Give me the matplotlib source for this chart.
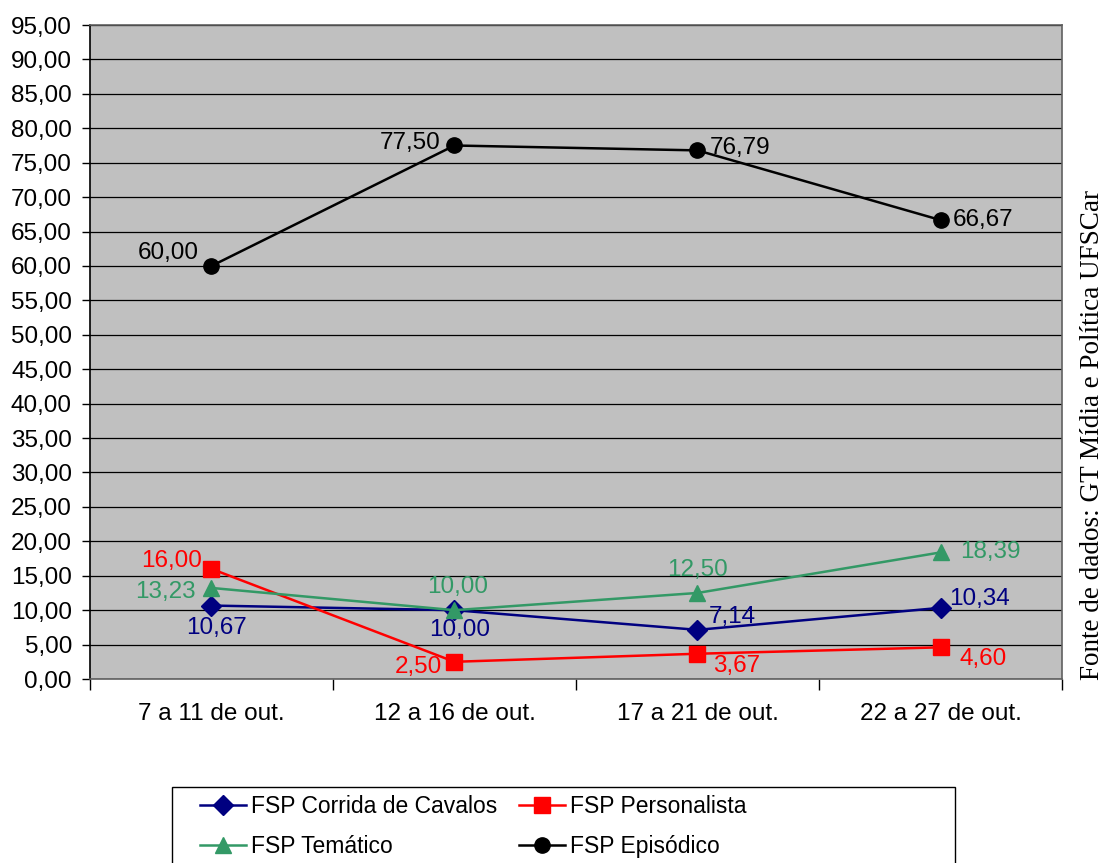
import matplotlib.pyplot as plt
from matplotlib.patches import Rectangle
from matplotlib.ticker import FixedLocator, FuncFormatter

periods = ["7 a 11 de out.", "12 a 16 de out.", "17 a 21 de out.", "22 a 27 de out."]

corrida = [10.67, 10.00, 7.14, 10.34]
personalista = [16.00, 2.50, 3.67, 4.60]
tematico = [13.23, 10.00, 12.50, 18.39]
episodico = [60.00, 77.50, 76.79, 66.67]

plt.rcParams['font.family'] = ['Liberation Sans', 'DejaVu Sans']
FS = 17.5

def br(v):
    return f"{v:.2f}".replace('.', ',')

fig = plt.figure(figsize=(11.05, 8.63), dpi=100)
ax = fig.add_axes([0.0814, 0.2132, 0.8797, 0.7578])
ax.set_facecolor('#c0c0c0')

x = list(range(len(periods)))
l1, = ax.plot(x, corrida, color='#000080', lw=1.8, marker='D', ms=10, label='FSP Corrida de Cavalos', zorder=3)
l2, = ax.plot(x, personalista, color='#ff0000', lw=1.8, marker='s', ms=12, label='FSP Personalista', zorder=3)
l3, = ax.plot(x, tematico, color='#339966', lw=1.8, marker='^', ms=12, label='FSP Temático', zorder=3)
l4, = ax.plot(x, episodico, color='black', lw=1.8, marker='o', ms=11, label='FSP Episódico', zorder=3)

# value labels: offset in points and horizontal alignment for each point
def put(vals, color, offs):
    for i, (v, (dx, dy, ha)) in enumerate(zip(vals, offs)):
        ax.annotate(br(v), (i, v), xytext=(dx, dy), textcoords='offset points',
                    ha=ha, va='center', color=color, fontsize=FS, zorder=4)

put(episodico, 'black', [(-9, 9, 'right'), (-10, 1.5, 'right'), (9, 2, 'left'), (9, 0, 'left')])
put(corrida, '#000080', [(3.5, -16.5, 'center'), (4, -14, 'center'), (8, 9, 'left'), (6.5, 6, 'left')])
put(personalista, '#ff0000', [(-7, 6, 'right'), (-9, -3.5, 'right'), (11.5, -9, 'left'), (14, -8.5, 'left')])
put(tematico, '#339966', [(-11, -3, 'right'), (2, 16.5, 'center'), (0, 16.5, 'center'), (14, 0.5, 'left')])

ax.set_xlim(-0.5, 3.5)
ax.set_ylim(0, 95)
ax.set_yticks([i * 5 for i in range(20)])
ax.yaxis.set_major_formatter(FuncFormatter(lambda v, p: br(v)))
ax.tick_params(axis='y', labelsize=FS, length=6, width=1, direction='out', pad=7)
ax.yaxis.grid(True, color='black', lw=0.9)
ax.set_axisbelow(True)

ax.xaxis.set_major_locator(FixedLocator([-0.5, 0.5, 1.5, 2.5, 3.5]))
ax.xaxis.set_major_formatter(FuncFormatter(lambda v, p: ''))
ax.xaxis.set_minor_locator(FixedLocator(x))
ax.set_xticklabels(periods, minor=True)
ax.tick_params(axis='x', which='major', length=8, width=1, direction='out')
ax.tick_params(axis='x', which='minor', length=0, labelsize=FS, pad=17)

for s in ['top', 'right', 'bottom']:
    ax.spines[s].set_color('#606060')
    ax.spines[s].set_linewidth(1.2)
ax.spines['left'].set_color('black')
ax.spines['left'].set_linewidth(1.2)

# legend box, running off the bottom edge
fig.patches.append(Rectangle((172 / 1105, -0.02), (955 - 172) / 1105, 0.02 + 1 - 787 / 863,
                             transform=fig.transFigure, fill=False, edgecolor='black', lw=1.0))
fig.legend(handles=[l1, l3, l2, l4], ncol=2, loc='upper left',
           bbox_to_anchor=(200 / 1105, 1 - 795 / 863), frameon=False,
           fontsize=16.5, handlelength=2.0, handletextpad=0.22, columnspacing=0.95,
           labelspacing=0.75, borderpad=0, borderaxespad=0)

fig.text(0.989, 0.496, 'Fonte de dados: GT Mídia e Política UFSCar', rotation=90,
         ha='center', va='center', fontsize=19.5, family=['Liberation Serif', 'DejaVu Serif'])

fig.savefig('out.png', dpi=100)
